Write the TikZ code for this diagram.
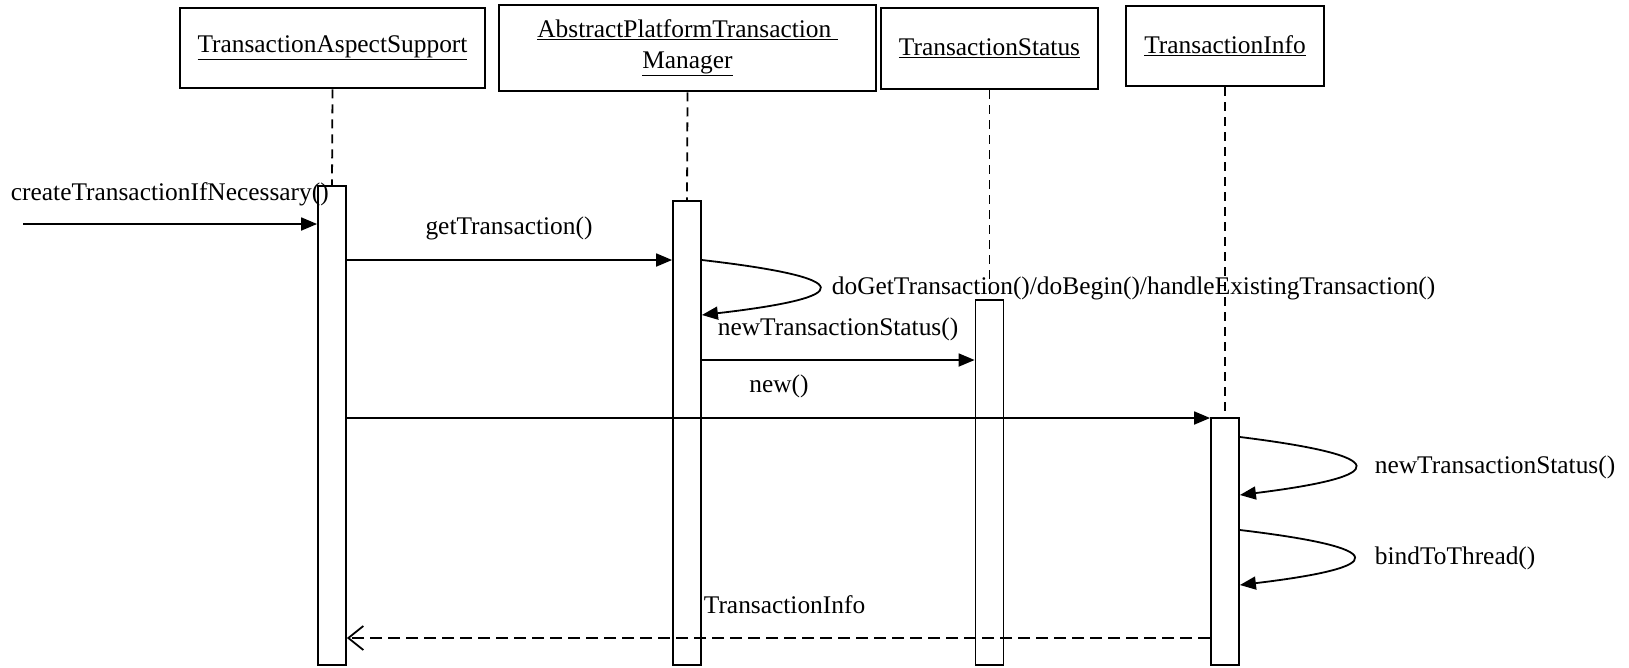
\documentclass[tikz,border=0pt]{standalone}
\usepackage{fontspec}
\setmainfont{Liberation Serif}
\usetikzlibrary{arrows.meta}

\begin{document}
\begin{tikzpicture}[x=1pt,y=-1pt,line width=1.8pt,font=\fontsize{25.4}{31}\selectfont,
  head/.style={draw,line width=2.6pt,align=center,inner sep=0pt},
  bar/.style={draw,fill=white,anchor=north,minimum width=28pt,inner sep=0pt},
  life/.style={dash pattern=on 9pt off 6pt},
  msg/.style={-{Triangle[length=16pt,width=13pt]}},
  reply/.style={dash pattern=on 12pt off 6pt,-{Straight Barb[length=15pt,width=24pt]}},
  lbl/.style={inner sep=0pt,anchor=west}]
  \useasboundingbox (0,0) rectangle (1629,667);
  \node[head,minimum width=305pt,minimum height=80pt] (aspect) at (332.5,48) {\underline{TransactionAspectSupport}};
  \node[head,minimum width=377pt,minimum height=86pt] (manager) at (687.5,48) {\underline{AbstractPlatformTransaction\ }\\\underline{Manager}};
  \node[head,minimum width=217pt,minimum height=81pt] (status) at (989.5,48.5) {\underline{TransactionStatus}};
  \node[head,minimum width=198pt,minimum height=80pt] (info) at (1225,46) {\underline{TransactionInfo}};
  \node[bar,minimum height=479pt] (bar1) at (332,185) {};
  \node[bar,minimum height=464pt] (bar2) at (687,200) {};
  \node[bar,minimum height=365pt] (bar3) at (989.5,299) {};
  \node[bar,minimum height=247pt] (bar4) at (1225,417) {};
  \draw[life] (aspect.south) -- (bar1.north);
  \draw[life] (manager.south) -- (bar2.north);
  \draw[life] (status.south) -- (bar3.north);
  \draw[life] (info.south) -- (bar4.north);
  \coordinate (caller) at (23,224);
  \draw[msg] (caller) -- (bar1.west |- caller);
  \node[lbl] (callLbl) at (10,194) {createTransactionIfNecessary()};
  \draw[msg] (bar1.east |- 0,260) -- (bar2.west |- 0,260);
  \node (getLbl) at (509,228) {getTransaction()};
  \draw[msg] (bar2.east |- 0,260) .. controls +(156,18) and +(156,-18) .. (bar2.east |- 0,315);
  \node[lbl] (doLbl) at (831,288) {doGetTransaction()/doBegin()/handleExistingTransaction()};
  \draw[msg] (bar2.east |- 0,360) -- (bar3.west |- 0,360);
  \node[lbl] (statusLbl) at (717,329) {newTransactionStatus()};
  \draw[msg] (bar1.east |- 0,418) -- (bar4.west |- 0,418);
  \node (newLbl) at (779,386) {new()};
  \draw[msg] (bar4.east |- 0,437) .. controls +(153,19) and +(153,-19) .. (bar4.east |- 0,495);
  \node[lbl] (status2Lbl) at (1374,467) {newTransactionStatus()};
  \draw[msg] (bar4.east |- 0,530) .. controls +(151,18) and +(151,-18) .. (bar4.east |- 0,585);
  \node[lbl] (bindLbl) at (1374,558) {bindToThread()};
  \draw[reply] (bar4.west |- 0,638) -- (bar1.east |- 0,638);
  \node[lbl] (infoLbl) at (703,605) {TransactionInfo};
\end{tikzpicture}
\end{document}
